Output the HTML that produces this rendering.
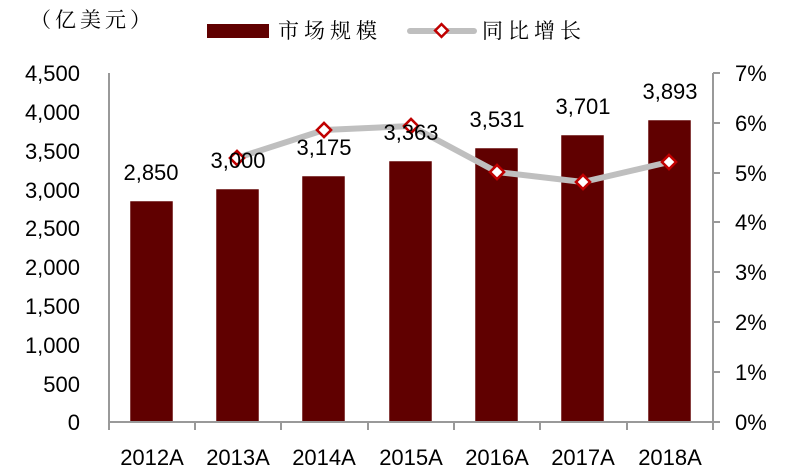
<!DOCTYPE html>
<html><head><meta charset="utf-8"><style>body{margin:0;background:#fff}svg{display:block}text{font-family:"Liberation Sans","Noto Sans CJK SC",sans-serif;fill:#000}.cj{font-family:"Noto Serif CJK SC","Liberation Serif",serif}</style></head><body>
<svg width="800" height="472" viewBox="0 0 800 472" xmlns="http://www.w3.org/2000/svg">
<g font-size="21">
<text class="cj" x="30" y="27" letter-spacing="4">（亿美元）</text>
<rect x="207" y="24" width="62" height="14" fill="#600000"/>
<text class="cj" x="278" y="38" letter-spacing="5">市场规模</text>
<line x1="410" y1="31" x2="474" y2="31" stroke="#bfbfbf" stroke-width="6" stroke-linecap="round"/>
<rect x="437" y="26" width="9" height="9" fill="#fff" stroke="#c00000" stroke-width="2.5" transform="rotate(45 441.5 30.5)"/>
<text class="cj" x="482" y="38" letter-spacing="5">同比增长</text>
</g>
<g fill="#600000" stroke="#fff" stroke-width="0.5">
<rect x="130" y="201" width="43" height="221"/>
<rect x="216" y="189" width="43" height="233"/>
<rect x="302" y="176" width="43" height="246"/>
<rect x="389" y="161" width="43" height="261"/>
<rect x="475" y="148" width="43" height="274"/>
<rect x="561" y="135" width="43" height="287"/>
<rect x="648" y="120" width="43" height="302"/>
</g>
<g stroke="#999" stroke-width="2" fill="none">
<line x1="109" y1="73" x2="109" y2="423"/>
<line x1="108" y1="422" x2="713" y2="422"/>
<line x1="713" y1="73" x2="713" y2="423"/>
<path d="M713 73h7M713 123h7M713 173h7M713 222h7M713 272h7M713 322h7M713 372h7M713 422h7"/>
<path d="M109 422v8M195 422v8M281 422v8M368 422v8M454 422v8M540 422v8M627 422v8M713 422v8"/>
</g>
<polyline points="237,158 324,130 411,126 497,172 583,182 669,162" fill="none" stroke="#bfbfbf" stroke-width="6" stroke-linejoin="round"/>
<g fill="#fff" stroke="#c00000" stroke-width="2.5">
<rect x="232" y="153" width="10" height="10" transform="rotate(45 237 158)"/>
<rect x="319" y="125" width="10" height="10" transform="rotate(45 324 130)"/>
<rect x="406" y="121" width="10" height="10" transform="rotate(45 411 126)"/>
<rect x="492" y="167" width="10" height="10" transform="rotate(45 497 172)"/>
<rect x="578" y="177" width="10" height="10" transform="rotate(45 583 182)"/>
<rect x="664" y="157" width="10" height="10" transform="rotate(45 669 162)"/>
</g>
<g font-size="22" text-anchor="middle">
<text x="151" y="180">2,850</text>
<text x="238" y="168">3,000</text>
<text x="324" y="155">3,175</text>
<text x="411" y="140">3,363</text>
<text x="497" y="127">3,531</text>
<text x="583" y="114">3,701</text>
<text x="670" y="99">3,893</text>
</g>
<g font-size="22" text-anchor="end">
<text x="80" y="81">4,500</text><text x="80" y="120">4,000</text><text x="80" y="159">3,500</text><text x="80" y="198">3,000</text><text x="80" y="236">2,500</text><text x="80" y="275">2,000</text><text x="80" y="314">1,500</text><text x="80" y="353">1,000</text><text x="80" y="392">500</text><text x="80" y="430">0</text>
</g>
<g font-size="22">
<text x="735" y="81">7%</text><text x="735" y="131">6%</text><text x="735" y="181">5%</text><text x="735" y="230">4%</text><text x="735" y="280">3%</text><text x="735" y="330">2%</text><text x="735" y="380">1%</text><text x="735" y="430">0%</text>
</g>
<g font-size="22" text-anchor="middle">
<text x="152" y="465">2012A</text><text x="238" y="465">2013A</text><text x="324" y="465">2014A</text><text x="411" y="465">2015A</text><text x="497" y="465">2016A</text><text x="583" y="465">2017A</text><text x="670" y="465">2018A</text>
</g>
</svg>
</body></html>
